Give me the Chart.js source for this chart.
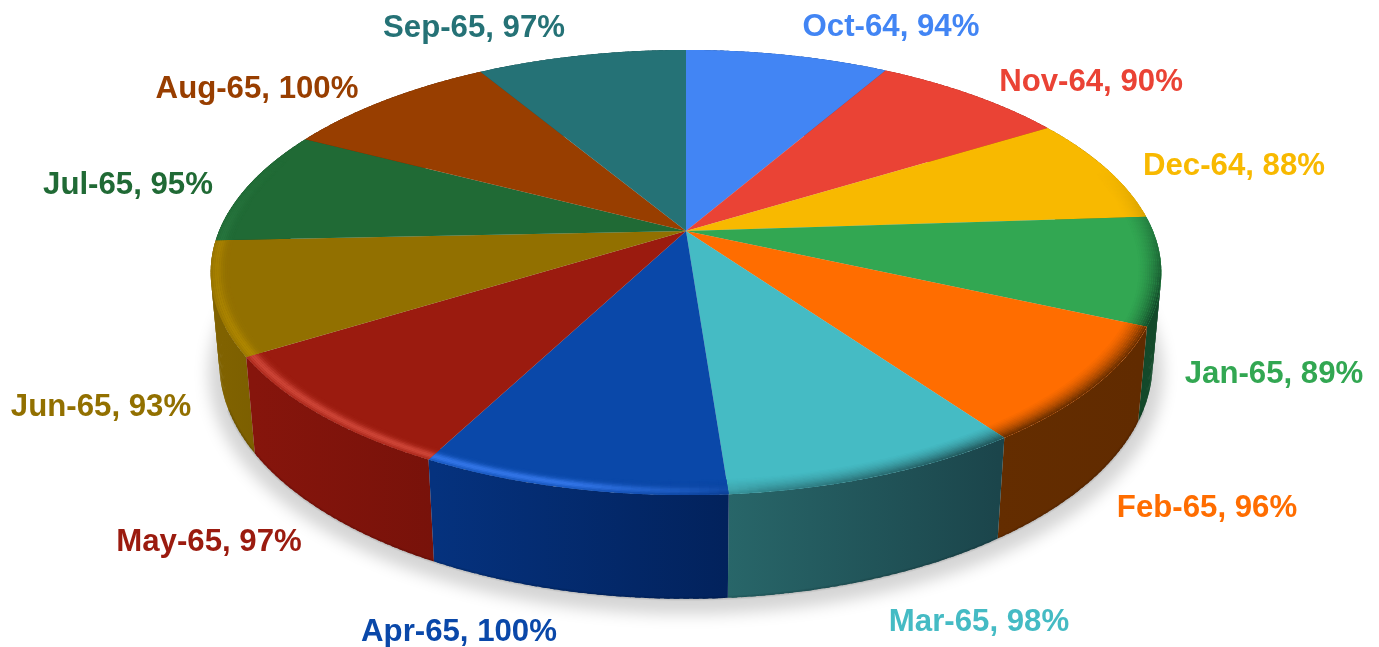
<!DOCTYPE html>
<html>
<head>
<meta charset="utf-8">
<style>html,body{margin:0;padding:0;background:#fff;overflow:hidden}canvas{display:block;filter:blur(0.45px)}</style>
<script src="https://cdn.jsdelivr.net/npm/chart.js@4"></script>
</head>
<body>
<canvas id="c" width="1379" height="647"></canvas>
<script>
const categories = ['Oct-64','Nov-64','Dec-64','Jan-65','Feb-65','Mar-65','Apr-65','May-65','Jun-65','Jul-65','Aug-65','Sep-65'];
const values = [94,90,88,89,96,98,100,97,93,95,100,97];
const topColors = ['#4285F4','#EA4335','#F8B900','#32A752','#FF6D00','#45BBC4','#0A48A9','#9B1B0F','#927000','#206A35','#983E00','#257276'];
const sideLeft  = ['#2a5aa8','#a02c22','#a98000','#13492a','#642d00','#286669','#05327E','#86150C','#806200','#164a25','#692b00','#1a5053'];
const sideRight = ['#2a5aa8','#a02c22','#a98000','#13492a','#612B00','#1B454B','#02225C','#78120A','#7C5F00','#164a25','#692b00','#1a5053'];
const rimLight  = ['#4285F4','#EA4335','#F8B900','#32A752','#FF6D00','#55C8D0','#3274E6','#CC4436','#B08800','#2A7A42','#983E00','#257276'];
const labelCenters = [[891,27],[1091,82],[1234,166],[1274,374],[1207,508],[979,622],[459,632],[209,542],[101,407],[128,185],[257,89],[474,28]];

// perspective view of the pie, in multiples of the library's outer radius
const VIEW = {width:2.0216, height:0.93, tilt:0.1865, depth:0.394, depthTilt:0.018};

function project(arc, angle, r, low){
  const th = angle + Math.PI/2, u = Math.sin(th)*r, v = Math.cos(th)*r, R = arc.outerRadius;
  const den = 1 + VIEW.tilt*v + (low ? VIEW.depthTilt : 0);
  return [arc.x + R*VIEW.width*u/den, arc.y + R*(-VIEW.height*v + (low ? VIEW.depth : 0))/den];
}
function trace(ctx, arc, a0, a1, r, low, first){
  const n = Math.max(2, Math.ceil(Math.abs(a1-a0)/(Math.PI/360)));
  for(let i=0;i<=n;i++){
    const p = project(arc, a0+(a1-a0)*i/n, r, low);
    if(i===0 && first) ctx.moveTo(p[0],p[1]); else ctx.lineTo(p[0],p[1]);
  }
}
const hex = s => [1,3,5].map(i=>parseInt(s.substr(i,2),16));
const mix = (a,b,t) => a.map((c,i)=>c+(b[i]-c)*t);
const ramp = (x,a,b) => Math.max(0,Math.min(1,(x-a)/(b-a)));

function darkAmount(d){ return ramp(d,72,108)*(1-0.45*ramp(d,150,172))*(1-ramp(d,172,192)); }
function lightAmount(d){ return ramp(d,172,192)*(1-0.35*ramp(d,236,258))*(1-ramp(d,268,292)); }

const pie3d = {
  id:'pie3d',
  beforeDatasetDraw(chart,args){
    const ctx = chart.ctx, arcs = args.meta.data, first = arcs[0];
    ctx.save();
    // ground shadow: only the blurred shadow of an off-canvas copy lands on the page
    ctx.save();
    ctx.shadowColor='rgba(0,0,0,0.17)'; ctx.shadowBlur=15; ctx.shadowOffsetX=3000; ctx.shadowOffsetY=8;
    ctx.translate(-3000,0);
    ctx.fillStyle='#000';
    ctx.beginPath(); trace(ctx,first,-Math.PI/2,Math.PI*1.5,1.022,true,true); ctx.closePath(); ctx.fill();
    ctx.restore();
    // side walls, back to front, swept in overlapping steps so the silhouette is filled
    const order = arcs.map((a,i)=>i).sort((i,j)=>{
      const m = k => Math.cos((arcs[k].startAngle+arcs[k].endAngle)/2+Math.PI/2);
      return m(j)-m(i);
    });
    order.forEach(i=>{
      const a = arcs[i];
      const x0 = project(a,a.startAngle,1,true)[0], x1 = project(a,a.endAngle,1,true)[0];
      const g = ctx.createLinearGradient(Math.min(x0,x1),0,Math.max(x0,x1)+1,0);
      g.addColorStop(0,sideLeft[i]); g.addColorStop(1,sideRight[i]);
      ctx.fillStyle=g;
      const span = a.endAngle-a.startAngle, n = Math.ceil(span/(Math.PI/180));
      for(let k=0;k<n;k++){
        const s0 = a.startAngle+span*k/n, s1 = Math.min(a.startAngle+span*(k+1.6)/n, a.endAngle);
        ctx.beginPath();
        trace(ctx,a,s0,s1,1,false,true);
        trace(ctx,a,s1,s0,1,true,false);
        ctx.closePath(); ctx.fill();
      }
    });
    // soft dark foot along the lower edge
    ctx.lineJoin='round';
    for(let w=4;w>=2;w-=2){
      ctx.strokeStyle='rgba(0,0,0,0.06)'; ctx.lineWidth=w;
      ctx.beginPath(); trace(ctx,first,-Math.PI/2+Math.PI*0.62,-Math.PI/2+Math.PI*1.38,1,true,true); ctx.stroke();
    }
    // top faces with bevelled rim
    arcs.forEach((a,i)=>{
      ctx.save();
      ctx.beginPath();
      ctx.moveTo(a.x,a.y);
      trace(ctx,a,a.startAngle,a.endAngle,1,false,false);
      ctx.closePath();
      ctx.fillStyle=topColors[i]; ctx.fill();
      ctx.clip();
      const base = hex(topColors[i]), dark = mix(hex(sideLeft[i]),hex(sideRight[i]),0.5), glow = hex(rimLight[i]);
      const step = Math.PI/180, bands = 12, thick = 0.05;
      for(let b=bands-1;b>=0;b--){
        const t = (b+0.5)/bands, r = 1-t*thick;
        ctx.lineWidth = a.outerRadius*1.3*thick/bands*1.6;
        for(let s=a.startAngle;s<a.endAngle;s+=step){
          const deg = (s+step/2+Math.PI/2)*180/Math.PI;
          const da = darkAmount(deg)*Math.pow(1-t,1.6);
          const la = lightAmount(deg)*Math.exp(-Math.pow((t-0.25)/0.24,2));
          if(da<0.01 && la<0.01) continue;
          const c = mix(mix(base,dark,da),glow,la);
          ctx.strokeStyle=`rgb(${c.map(Math.round).join(',')})`;
          ctx.beginPath();
          trace(ctx,a,s-step*0.1,Math.min(s+step*1.1,a.endAngle+step*0.1),r,false,true);
          ctx.stroke();
        }
      }
      ctx.restore();
    });
    ctx.restore();
    return false;
  },
  afterDraw(chart){
    const ctx = chart.ctx;
    ctx.save();
    ctx.font = 'bold 31.2px "Liberation Sans", Arial, sans-serif';
    ctx.textAlign='center'; ctx.textBaseline='middle';
    categories.forEach((c,i)=>{
      ctx.fillStyle=topColors[i];
      ctx.fillText(`${c}, ${values[i]}%`,labelCenters[i][0],labelCenters[i][1]);
    });
    ctx.restore();
  }
};

new Chart(document.getElementById('c'),{
  type:'pie',
  data:{labels:categories,datasets:[{data:values,backgroundColor:topColors,borderWidth:0}]},
  options:{
    responsive:false,animation:false,
    layout:{padding:{right:7,bottom:185}},
    plugins:{legend:{display:false},tooltip:{enabled:false}}
  },
  plugins:[pie3d]
});
</script>
</body>
</html>
